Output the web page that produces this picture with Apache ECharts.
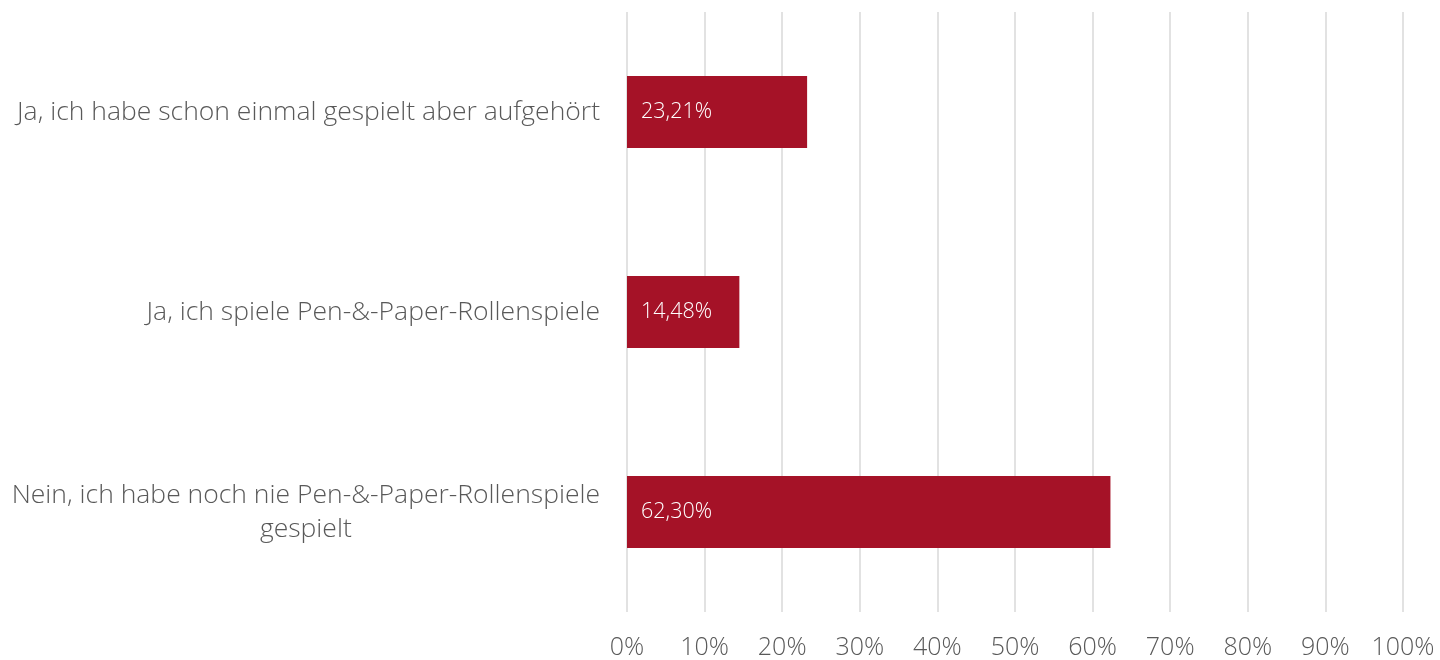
<!DOCTYPE html>
<html><head><meta charset="utf-8">
<script src="https://cdn.jsdelivr.net/npm/echarts@6/dist/echarts.min.js"></script>
<style>html,body{margin:0;padding:0;background:#fff}#c{width:1440px;height:660px}</style>
</head><body><div id="c"></div>
<script>
const categories = [
  "Ja, ich habe schon einmal gespielt aber aufgehört",
  "Ja, ich spiele Pen-&-Paper-Rollenspiele",
  "Nein, ich habe noch nie Pen-&-Paper-Rollenspiele\ngespielt"
];
const values = [23.21, 14.48, 62.30];
const xTicks = [0, 10, 20, 30, 40, 50, 60, 70, 80, 90, 100];

const font = '"Open Sans", sans-serif';
const chart = echarts.init(document.getElementById('c'));
chart.setOption({
  animation: false,
  grid: { left: 627, right: 37, top: 12, bottom: 48, containLabel: false },
  xAxis: {
    type: 'value', min: xTicks[0], max: xTicks[xTicks.length - 1], interval: 10,
    axisLine: { show: false }, axisTick: { show: false },
    splitLine: { show: true, lineStyle: { color: '#d9d9d9', width: 1.5 } },
    axisLabel: {
      formatter: v => v + '%', color: '#595959', fontFamily: font, fontWeight: 300,
      fontSize: 25, margin: 23
    }
  },
  yAxis: {
    type: 'category', data: categories, inverse: true,
    axisLine: { show: false }, axisTick: { show: false },
    axisLabel: {
      color: '#595959', fontFamily: font, fontWeight: 300, fontSize: 26.5, margin: 27,
      align: 'right', lineHeight: 34,
      formatter: v => v.split('\n').map(s => '{a|' + s + '}').join('\n'),
      rich: { a: { align: 'center', color: '#595959', fontFamily: font, fontWeight: 300, fontSize: 26.5, lineHeight: 34 } }
    }
  },
  series: [{
    type: 'bar', data: values, barWidth: 72,
    itemStyle: { color: '#A51227' },
    label: {
      show: true, position: 'insideLeft', distance: 14,
      formatter: p => p.value.toFixed(2).replace('.', ',') + '%',
      color: '#ffffff', fontFamily: font, fontWeight: 300, fontSize: 21.5
    }
  }]
});
</script></body></html>
